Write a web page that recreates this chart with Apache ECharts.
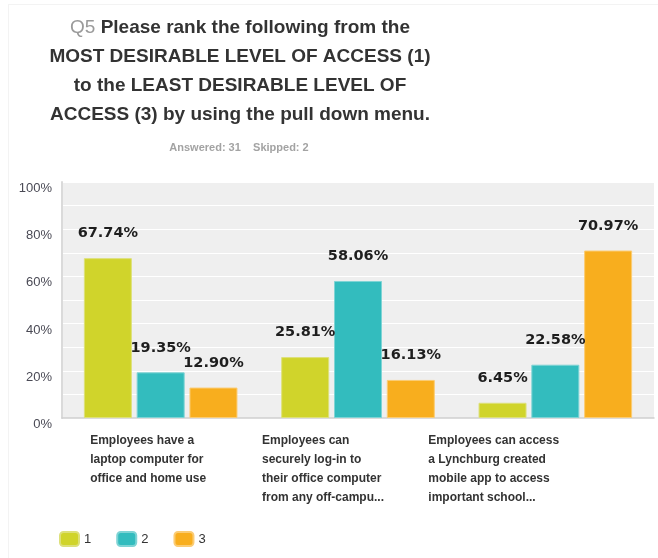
<!DOCTYPE html>
<html>
<head>
<meta charset="utf-8">
<script src="https://cdn.jsdelivr.net/npm/echarts@6/dist/echarts.min.js"></script>
<style>
  html, body { margin: 0; padding: 0; background: #ffffff; }
  #frame { position: absolute; left: 8px; top: 4px; width: 680px; height: 600px; border: 1px solid #f3f3f3; }
  #chart { position: absolute; left: 0; top: 0; width: 658px; height: 558px; }
</style>
</head>
<body>
<div id="frame"></div>
<div id="chart"></div>
<script>
// Answer choices (x-axis categories), already wrapped into lines
const categories = [
  'Employees have a\nlaptop computer for\noffice and home use',
  'Employees can\nsecurely log-in to\ntheir office computer\nfrom any off-campu...',
  'Employees can access\na Lynchburg created\nmobile app to access\nimportant school...'
];

// Share of respondents giving each rank, in percent
const rankNames = ['1', '2', '3'];
const rank1 = [67.74, 25.81, 6.45];
const rank2 = [19.35, 58.06, 22.58];
const rank3 = [12.90, 16.13, 70.97];

// Y-axis range and labelled step
const yMin = 0;
const yMax = 100;
const yStep = 20;

const rankColors = ['#d0d42b', '#33bcbe', '#f8ae1e'];
const rankBorders = ['#dde07a', '#7fd4d5', '#fbcc74'];

// Width of the left-aligned text block under each category
const labelBlockWidths = [141, 192, 254];

const rich = {};
labelBlockWidths.forEach(function (w, i) {
  rich['c' + i] = {
    width: w,
    align: 'left',
    fontFamily: "'Liberation Sans', Arial, sans-serif",
    fontSize: 12,
    fontWeight: 'bold',
    color: '#333333',
    lineHeight: 19
  };
});

const titleFont = "'Liberation Sans', Arial, sans-serif";

const chart = echarts.init(document.getElementById('chart'), null, { renderer: 'canvas' });

function makeSeries(name, values, idx) {
  return {
    name: name,
    type: 'bar',
    data: values,
    barWidth: 48,
    barGap: '10%',
    itemStyle: {
      color: rankColors[idx],
      borderColor: rankBorders[idx],
      borderWidth: 1
    },
    label: {
      show: true,
      position: 'top',
      distance: 17,
      formatter: function (p) { return p.value.toFixed(2) + '%'; },
      fontFamily: "'DejaVu Sans', Verdana, sans-serif",
      fontWeight: 'bold',
      fontSize: 14.5,
      color: '#1e1e1e'
    }
  };
}

chart.setOption({
  animation: false,
  title: [
    {
      text: '{q|Q5} Please rank the following from the\nMOST DESIRABLE LEVEL OF ACCESS (1)\nto the LEAST DESIRABLE LEVEL OF\nACCESS (3) by using the pull down menu.',
      left: 235,
      top: 8,
      textAlign: 'center',
      textStyle: {
        fontFamily: titleFont,
        fontSize: 19,
        fontWeight: 'bold',
        color: '#333333',
        lineHeight: 29,
        rich: {
          q: {
            fontFamily: titleFont,
            fontSize: 19,
            fontWeight: 'normal',
            color: '#9a9a9a',
            lineHeight: 29
          }
        }
      }
    },
    {
      text: 'Answered: 31    Skipped: 2',
      left: 234,
      top: 136,
      textAlign: 'center',
      textStyle: {
        fontFamily: "'Liberation Sans', Arial, sans-serif",
        fontSize: 11,
        fontWeight: 'bold',
        color: '#a3a3a3',
        lineHeight: 13
      }
    }
  ],
  legend: {
    data: rankNames,
    left: 54,
    top: 526,
    itemWidth: 19,
    itemHeight: 14,
    itemGap: 25,
    icon: 'roundRect',
    textStyle: {
      fontFamily: "'Liberation Sans', Arial, sans-serif",
      fontSize: 13,
      color: '#333333'
    }
  },
  grid: {
    left: 62,
    right: 4,
    top: 182,
    bottom: 140,
    outerBoundsMode: 'none',
    containLabel: false,
    show: true,
    backgroundColor: '#efefef',
    borderWidth: 0
  },
  xAxis: {
    type: 'category',
    data: categories,
    axisTick: { show: false },
    axisLine: { lineStyle: { color: '#cfcfcf', width: 1.5 } },
    axisLabel: {
      interval: 0,
      margin: 13,
      align: 'center',
      verticalAlign: 'top',
      formatter: function (value, index) {
        return value.split('\n').map(function (line) {
          return '{c' + index + '|' + line + '}';
        }).join('\n');
      },
      rich: rich
    }
  },
  yAxis: {
    type: 'value',
    min: yMin,
    max: yMax,
    interval: yStep,
    axisLine: { show: true, lineStyle: { color: '#dadada', width: 2 } },
    axisTick: { show: false },
    splitLine: { show: true, lineStyle: { color: '#ffffff', width: 1 } },
    minorTick: { show: false, splitNumber: 2 },
    minorSplitLine: { show: true, lineStyle: { color: '#ffffff', width: 1 } },
    axisLabel: {
      margin: 10,
      verticalAlign: 'top',
      formatter: function (v) { return v + '%'; },
      fontFamily: "'Liberation Sans', Arial, sans-serif",
      fontSize: 13,
      color: '#4a4a55'
    }
  },
  series: [
    makeSeries(rankNames[0], rank1, 0),
    makeSeries(rankNames[1], rank2, 1),
    makeSeries(rankNames[2], rank3, 2)
  ]
});
</script>
</body>
</html>
